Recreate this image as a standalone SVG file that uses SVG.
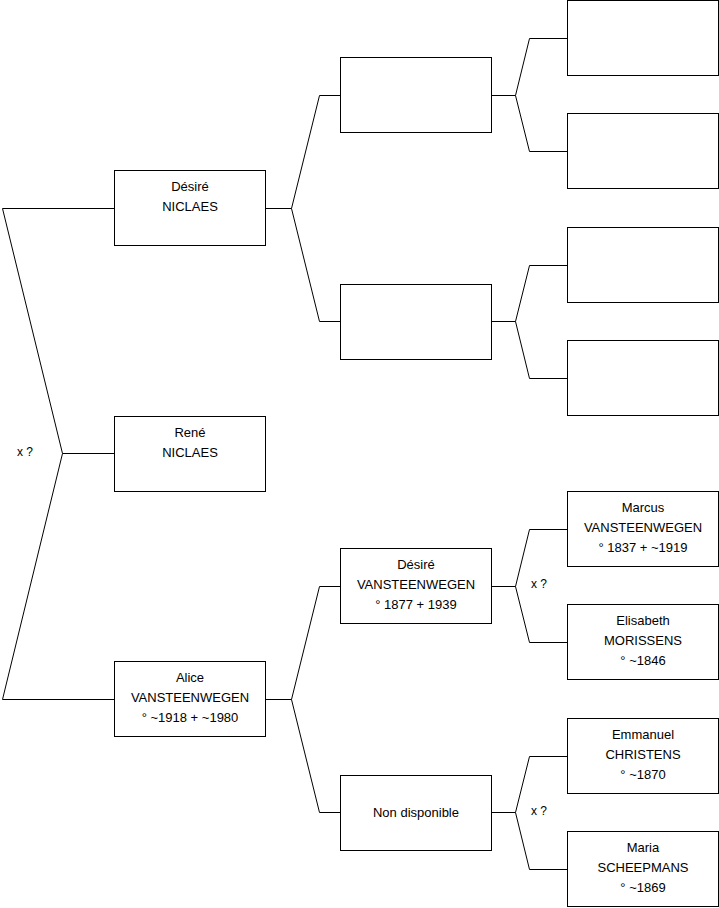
<svg xmlns="http://www.w3.org/2000/svg" width="719" height="908" viewBox="0 0 719 908">
<style>
.box{fill:#fff;stroke:#000;stroke-width:1}
.ln{fill:none;stroke:#000;stroke-width:1}
text{font-family:"Liberation Sans",Arial,sans-serif;font-size:13px;fill:#000;text-anchor:middle}
.lbl{font-size:12px;text-anchor:start}
</style>
<rect width="719" height="908" fill="#fff"/>
<g id="connectors">
<polyline class="ln" points="114.5,208.5 2.5,208.5 62.5,453.5 2.5,699.5 114.5,699.5"/>
<line class="ln" x1="62.5" y1="453.5" x2="114.5" y2="453.5"/>
<polyline class="ln" points="265.5,208.5 291.5,208.5 319.5,95.5 340.5,95.5"/>
<polyline class="ln" points="291.5,208.5 319.5,321.5 340.5,321.5"/>
<polyline class="ln" points="265.5,699.5 291.5,699.5 319.5,586.5 340.5,586.5"/>
<polyline class="ln" points="291.5,699.5 319.5,812.5 340.5,812.5"/>
<polyline class="ln" points="491.5,95.5 515.5,95.5 529.5,38.5 567.5,38.5"/>
<polyline class="ln" points="515.5,95.5 529.5,151.5 567.5,151.5"/>
<polyline class="ln" points="491.5,321.5 515.5,321.5 529.5,265.5 567.5,265.5"/>
<polyline class="ln" points="515.5,321.5 529.5,378.5 567.5,378.5"/>
<polyline class="ln" points="491.5,586.5 515.5,586.5 529.5,529.5 567.5,529.5"/>
<polyline class="ln" points="515.5,586.5 529.5,642.5 567.5,642.5"/>
<polyline class="ln" points="491.5,812.5 515.5,812.5 529.5,756.5 567.5,756.5"/>
<polyline class="ln" points="515.5,812.5 529.5,869.5 567.5,869.5"/>
<text class="lbl" x="17" y="456">x ?</text>
<text class="lbl" x="531" y="588">x ?</text>
<text class="lbl" x="531" y="815">x ?</text>
</g>
<g id="desire-niclaes"><rect class="box" x="114.5" y="170.5" width="151" height="75"/><text x="190" y="191">Désiré</text><text x="190" y="211">NICLAES</text></g>
<g id="rene-niclaes"><rect class="box" x="114.5" y="416.5" width="151" height="75"/><text x="190" y="437">René</text><text x="190" y="457">NICLAES</text></g>
<g id="alice-vansteenwegen"><rect class="box" x="114.5" y="661.5" width="151" height="75"/><text x="190" y="682">Alice</text><text x="190" y="702">VANSTEENWEGEN</text><text x="190" y="722">° ~1918 + ~1980</text></g>
<g id="g2a"><rect class="box" x="340.5" y="57.5" width="151" height="75"/></g>
<g id="g2b"><rect class="box" x="340.5" y="284.5" width="151" height="75"/></g>
<g id="desire-vansteenwegen"><rect class="box" x="340.5" y="548.5" width="151" height="75"/><text x="416" y="569">Désiré</text><text x="416" y="589">VANSTEENWEGEN</text><text x="416" y="609">° 1877 + 1939</text></g>
<g id="non-disponible"><rect class="box" x="340.5" y="775.5" width="151" height="75"/><text x="416" y="817">Non disponible</text></g>
<g id="g3a"><rect class="box" x="567.5" y="0.5" width="151" height="75"/></g>
<g id="g3b"><rect class="box" x="567.5" y="113.5" width="151" height="75"/></g>
<g id="g3c"><rect class="box" x="567.5" y="227.5" width="151" height="75"/></g>
<g id="g3d"><rect class="box" x="567.5" y="340.5" width="151" height="75"/></g>
<g id="marcus"><rect class="box" x="567.5" y="491.5" width="151" height="75"/><text x="643" y="512">Marcus</text><text x="643" y="532">VANSTEENWEGEN</text><text x="643" y="552">° 1837 + ~1919</text></g>
<g id="elisabeth"><rect class="box" x="567.5" y="604.5" width="151" height="75"/><text x="643" y="625">Elisabeth</text><text x="643" y="645">MORISSENS</text><text x="643" y="665">° ~1846</text></g>
<g id="emmanuel"><rect class="box" x="567.5" y="718.5" width="151" height="75"/><text x="643" y="739">Emmanuel</text><text x="643" y="759">CHRISTENS</text><text x="643" y="779">° ~1870</text></g>
<g id="maria"><rect class="box" x="567.5" y="831.5" width="151" height="75"/><text x="643" y="852">Maria</text><text x="643" y="872">SCHEEPMANS</text><text x="643" y="892">° ~1869</text></g>
</svg>
